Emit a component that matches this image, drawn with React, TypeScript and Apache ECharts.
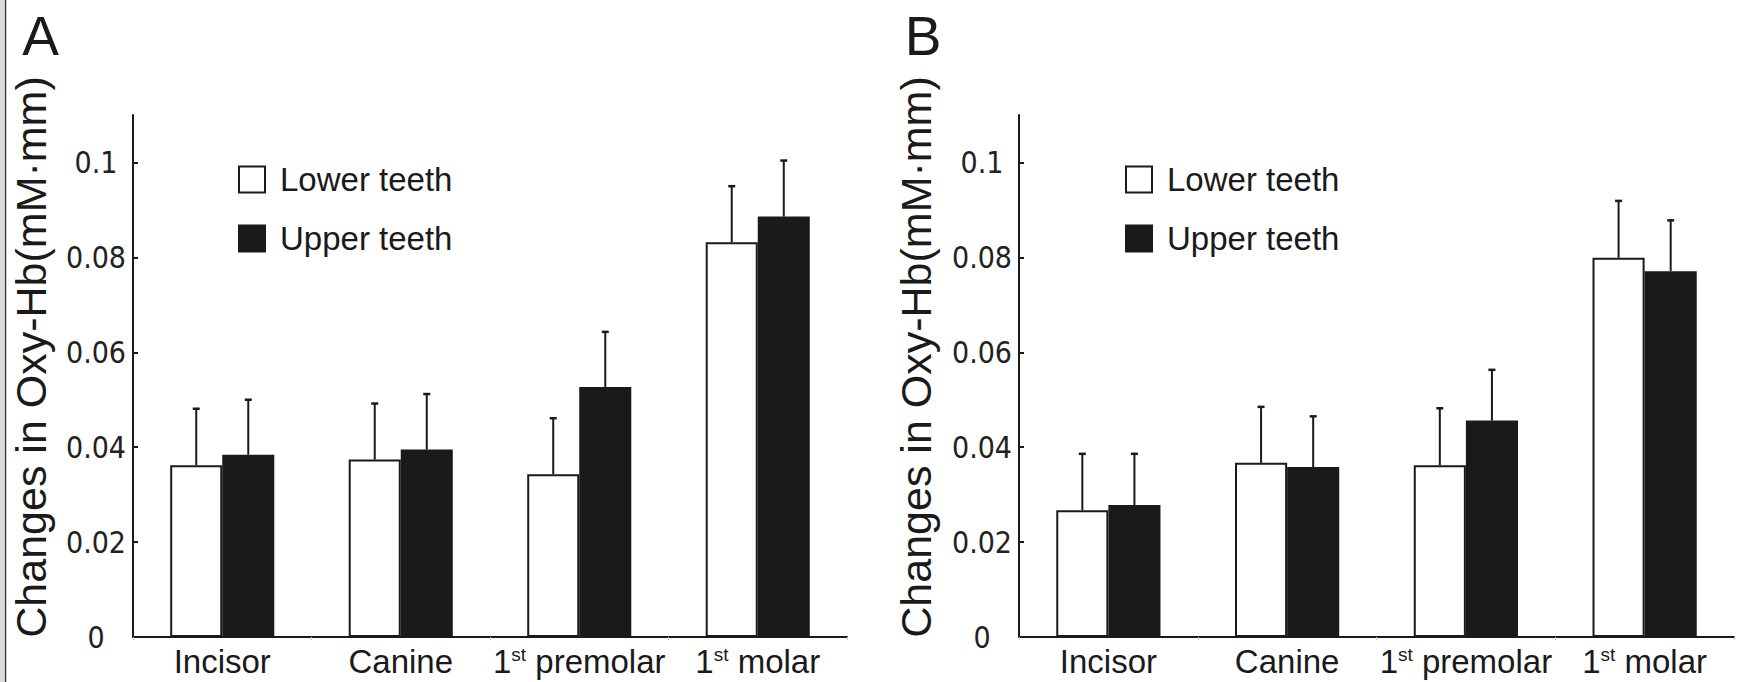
import React, { useEffect, useRef } from 'react';
import * as echarts from 'echarts';

const categories = ['Incisor', 'Canine', '1st premolar', '1st molar'];
const yTicks = [0, 0.02, 0.04, 0.06, 0.08, 0.1];
const seriesNames = ['Lower teeth', 'Upper teeth'];

// Panel A
const lowerA = [0.0362, 0.0374, 0.0343, 0.0832];
const lowerAErr = [0.0119, 0.0118, 0.0118, 0.0118];
const upperA = [0.0384, 0.0395, 0.0527, 0.0886];
const upperAErr = [0.0116, 0.0117, 0.0116, 0.0118];

// Panel B
const lowerB = [0.0267, 0.0367, 0.0362, 0.0799];
const lowerBErr = [0.0119, 0.0118, 0.0120, 0.0120];
const upperB = [0.0278, 0.0358, 0.0456, 0.0771];
const upperBErr = [0.0108, 0.0107, 0.0107, 0.0107];

const INK = '#1a1a1a';
const FONT = '"Liberation Sans", Arial, Helvetica, sans-serif';
const NARROW = '"Liberation Sans Narrow", "Arial Narrow", "DejaVu Sans Condensed", "Liberation Sans", Arial, sans-serif';
const GAP_FRAC = 0.417;

function barSeries(name: string, idx: number, data: number[], white: boolean) {
  return {
    type: 'bar',
    name,
    xAxisIndex: idx,
    yAxisIndex: idx,
    data,
    barGap: '0%',
    barCategoryGap: GAP_FRAC * 100 + '%',
    itemStyle: {
      color: white ? '#ffffff' : INK,
      borderColor: INK,
      borderWidth: 2,
    },
    silent: true,
    z: 2,
  };
}

function errSeries(name: string, idx: number, data: number[], errs: number[], side: number) {
  return {
    type: 'custom',
    name: name + ' SD',
    xAxisIndex: idx,
    yAxisIndex: idx,
    data: data.map((v, i) => [i, v, errs[i]]),
    encode: { x: 0, y: 1 },
    silent: true,
    z: 3,
    renderItem: (params: any, api: any) => {
      const i = api.value(0);
      const v = api.value(1);
      const e = api.value(2);
      const p0 = api.coord([i, v]);
      const p1 = api.coord([i, v + e]);
      const band = api.size([1, 0])[0];
      const bw = (band * (1 - GAP_FRAC)) / 2;
      const cx = p0[0] + (side * bw) / 2;
      return {
        type: 'group',
        children: [
          { type: 'line', shape: { x1: cx, y1: p0[1], x2: cx, y2: p1[1] }, style: { stroke: INK, lineWidth: 2 } },
          { type: 'line', shape: { x1: cx - 3.5, y1: p1[1], x2: cx + 3.5, y2: p1[1] }, style: { stroke: INK, lineWidth: 2.5 } },
        ],
      };
    },
  };
}

function xAxisDef(idx: number) {
  return {
    type: 'category',
    gridIndex: idx,
    data: categories,
    axisLine: { lineStyle: { color: INK, width: 2 } },
    axisTick: { show: true, length: 3, lineStyle: { color: '#c8c8c8', width: 1 } },
    axisLabel: {
      color: INK,
      fontSize: 33,
      fontFamily: FONT,
      lineHeight: 33,
      margin: 8,
      interval: 0,
      formatter: (v: string) => (v.startsWith('1st ') ? '{n|1}{sup|st}{n| ' + v.slice(4) + '}' : v),
      rich: {
        n: { fontSize: 33, lineHeight: 33, fontFamily: FONT, color: INK },
        sup: { fontSize: 19, lineHeight: 19, fontFamily: FONT, color: INK, verticalAlign: 'top' },
      },
    },
  };
}

function yAxisDef(idx: number) {
  return {
    type: 'value',
    gridIndex: idx,
    min: 0,
    max: 0.11,
    interval: 0.02,
    splitLine: { show: false },
    axisLine: { show: true, lineStyle: { color: INK, width: 2 } },
    axisTick: { show: true, inside: true, length: 5, lineStyle: { color: INK, width: 2 }, customValues: yTicks },
    axisLabel: {
      color: '#222',
      fontSize: 30,
      fontFamily: NARROW,
      align: 'center',
      margin: 37,
      customValues: yTicks,
      formatter: (v: number) => String(Math.round(v * 100) / 100),
    },
  };
}

function legendDef(left: number) {
  return {
    left,
    top: 158,
    orient: 'vertical',
    icon: 'rect',
    itemWidth: 26,
    itemHeight: 26,
    itemGap: 26,
    selectedMode: false,
    data: seriesNames,
    textStyle: { fontSize: 33, color: INK, fontFamily: FONT, padding: [0, 0, 0, 10] },
  };
}

const yTitle = 'Changes in Oxy-Hb(mM\u00b7mm)';

export default function App() {
  const ref = useRef<HTMLDivElement>(null);
  useEffect(() => {
    if (!ref.current) return;
    const chart = echarts.init(ref.current, undefined, { renderer: 'svg' });
    chart.setOption({
      animation: false,
      backgroundColor: '#ffffff',
      textStyle: { fontFamily: FONT },
      grid: [
        { left: 133, top: 115, width: 714, height: 522 },
        { left: 1019, top: 115, width: 715, height: 522 },
      ],
      xAxis: [xAxisDef(0), xAxisDef(1)],
      yAxis: [yAxisDef(0), yAxisDef(1)],
      legend: [legendDef(233), legendDef(1120)],
      series: [
        barSeries(seriesNames[0], 0, lowerA, true),
        barSeries(seriesNames[1], 0, upperA, false),
        barSeries(seriesNames[0], 1, lowerB, true),
        barSeries(seriesNames[1], 1, upperB, false),
        errSeries(seriesNames[0], 0, lowerA, lowerAErr, -1),
        errSeries(seriesNames[1], 0, upperA, upperAErr, 1),
        errSeries(seriesNames[0], 1, lowerB, lowerBErr, -1),
        errSeries(seriesNames[1], 1, upperB, upperBErr, 1),
      ],
      graphic: [
        { type: 'rect', shape: { x: 0, y: 0, width: 4, height: 682 }, style: { fill: '#dcdcdc' }, silent: true },
        { type: 'line', shape: { x1: 5.5, y1: 0, x2: 5.5, y2: 682 }, style: { stroke: '#333', lineWidth: 1.5 }, silent: true },
        {
          type: 'text', x: 40.5, y: 36,
          style: { text: 'A', fontSize: 55, fontFamily: FONT, fill: INK, align: 'center', verticalAlign: 'middle' },
        },
        {
          type: 'text', x: 923, y: 36,
          style: { text: 'B', fontSize: 55, fontFamily: FONT, fill: INK, align: 'center', verticalAlign: 'middle' },
        },
        {
          type: 'text', x: 31, y: 357, rotation: Math.PI / 2,
          style: { text: yTitle, fontSize: 43, fontFamily: FONT, fill: INK, align: 'center', verticalAlign: 'middle' },
        },
        {
          type: 'text', x: 916, y: 357, rotation: Math.PI / 2,
          style: { text: yTitle, fontSize: 43, fontFamily: FONT, fill: INK, align: 'center', verticalAlign: 'middle' },
        },
      ],
    });
    return () => chart.dispose();
  }, []);
  return (
    <div
      ref={ref}
      style={{ position: 'fixed', left: 0, top: 0, width: 1739, height: 682, background: '#fff' }}
    />
  );
}
